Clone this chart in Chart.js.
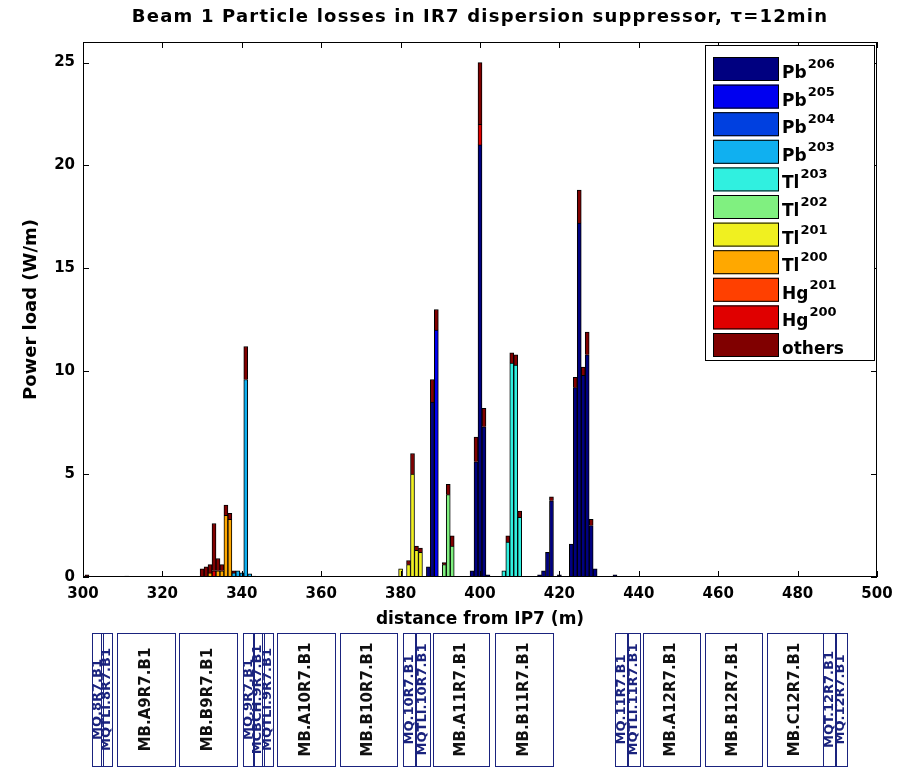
<!DOCTYPE html>
<html>
<head>
<meta charset="utf-8">
<script src="https://cdn.jsdelivr.net/npm/chart.js@4/dist/chart.umd.min.js"></script>
<style>
  body { margin: 0; background: #fff; }
</style>
</head>
<body>
<canvas id="lossChart" width="905" height="770"></canvas>
<script>
// posisi bin (m dari IP7)
const positions = [301, 311,
  330, 331, 332, 333, 334, 335, 336, 337, 338, 339, 340, 341, 342, 343,
  380, 382, 383, 384, 385, 387, 388, 389, 391, 392, 393, 398, 399, 400, 401, 402,
  406, 407, 408, 409, 410,
  415, 416, 417, 418, 420,
  423, 424, 425, 426, 427, 428, 429,
  434];

// beban daya per isotop (W/m), satu nilai per posisi
const pb206 = [0, 0,
  0, 0, 0, 0, 0, 0, 0, 0, 0, 0, 0, 0, 0, 0,
  0, 0, 0, 0, 0, 0.5, 8.5, 0, 0, 0, 0, 0.3, 5.6, 21.0, 7.3, 0.1,
  0, 0, 0, 0, 0,
  0.1, 0.3, 1.2, 3.7, 0.1,
  1.6, 9.2, 17.2, 9.8, 10.8, 2.5, 0.4,
  0.1];
const pb205 = [0, 0,
  0, 0, 0, 0, 0, 0, 0, 0, 0, 0, 0, 0, 0, 0,
  0, 0, 0, 0, 0, 0, 0, 12.0, 0, 0, 0, 0, 0, 0, 0, 0,
  0, 0, 0, 0, 0,
  0, 0, 0, 0, 0,
  0, 0, 0, 0, 0, 0, 0,
  0];
const pb204 = positions.map(() => 0);
const pb203 = [0, 0,
  0, 0, 0, 0, 0, 0, 0, 0, 0.2, 0.3, 0.2, 9.6, 0.15, 0,
  0, 0, 0, 0, 0, 0, 0, 0, 0, 0, 0, 0, 0, 0, 0, 0,
  0, 0, 0, 0, 0,
  0, 0, 0, 0, 0,
  0, 0, 0, 0, 0, 0, 0,
  0];
const tl203 = [0, 0,
  0, 0, 0, 0, 0, 0, 0, 0, 0, 0, 0, 0, 0, 0,
  0, 0, 0, 0, 0, 0, 0, 0, 0, 0, 0, 0, 0, 0, 0, 0,
  0.3, 1.7, 10.4, 10.3, 2.9,
  0, 0, 0, 0, 0,
  0, 0, 0, 0, 0, 0, 0,
  0];
const tl202 = [0, 0,
  0, 0, 0, 0, 0, 0, 0, 0, 0, 0, 0, 0, 0, 0,
  0, 0, 0, 0, 0, 0, 0, 0, 0.6, 4.0, 1.5, 0, 0, 0, 0, 0,
  0, 0, 0, 0, 0,
  0, 0, 0, 0, 0,
  0, 0, 0, 0, 0, 0, 0,
  0];
const tl201 = [0, 0,
  0, 0, 0, 0, 0, 0, 0, 0, 0, 0, 0, 0, 0, 0,
  0.4, 0.6, 5.0, 1.3, 1.2, 0, 0, 0, 0, 0, 0, 0, 0, 0, 0, 0,
  0, 0, 0, 0, 0,
  0, 0, 0, 0, 0,
  0, 0, 0, 0, 0, 0, 0,
  0];
const tl200 = [0, 0,
  0, 0, 0.2, 0, 0.3, 0.3, 3.0, 2.8, 0, 0, 0, 0, 0, 0,
  0, 0, 0, 0, 0, 0, 0, 0, 0, 0, 0, 0, 0, 0, 0, 0,
  0, 0, 0, 0, 0,
  0, 0, 0, 0, 0,
  0, 0, 0, 0, 0, 0, 0,
  0];
const hg201 = positions.map(() => 0);
const hg200 = [0, 0,
  0, 0, 0, 0.3, 0, 0, 0, 0, 0, 0, 0, 0, 0, 0,
  0, 0, 0, 0, 0, 0, 0, 0, 0, 0, 0, 0, 0, 1.0, 0, 0,
  0, 0, 0, 0, 0,
  0, 0, 0, 0, 0,
  0, 0, 0, 0, 0, 0, 0,
  0];
const others = [0.1, 0.05,
  0.4, 0.5, 0.4, 2.3, 0.6, 0.3, 0.5, 0.3, 0.1, 0, 0, 1.6, 0, 0.05,
  0, 0.2, 1.0, 0.2, 0.2, 0, 1.1, 1.0, 0.1, 0.5, 0.5, 0, 1.2, 3.0, 0.9, 0,
  0, 0.3, 0.5, 0.5, 0.3,
  0, 0, 0, 0.2, 0,
  0, 0.5, 1.6, 0.4, 1.1, 0.3, 0,
  0];

const speciesSymbol = ["Pb", "Pb", "Pb", "Pb", "Tl", "Tl", "Tl", "Tl", "Hg", "Hg", "others"];
const speciesMass = ["206", "205", "204", "203", "203", "202", "201", "200", "201", "200", ""];
const speciesValues = [pb206, pb205, pb204, pb203, tl203, tl202, tl201, tl200, hg201, hg200, others];
const speciesColors = ["#000080", "#0000f0", "#0040e0", "#10b0f0", "#30f0e0", "#80f080",
  "#f0f020", "#ffa800", "#ff4000", "#e00000", "#800000"];

// elemen magnet di bawah grafik
const elementNames = ["MQ.8R7.B1", "MQTLI.8R7.B1", "MB.A9R7.B1", "MB.B9R7.B1",
  "MQ.9R7.B1", "MCBCH.9R7.B1", "MQTLI.9R7.B1", "MB.A10R7.B1", "MB.B10R7.B1",
  "MQ.10R7.B1", "MQTLI.10R7.B1", "MB.A11R7.B1", "MB.B11R7.B1",
  "MQ.11R7.B1", "MQTLI.11R7.B1", "MB.A12R7.B1", "MB.B12R7.B1", "MB.C12R7.B1",
  "MQT.12R7.B1", "MQ.12R7.B1"];
const elementStart = [302.3, 304.6, 308.6, 324.2, 340.3, 342.7, 345.2, 348.9, 364.7,
  380.6, 383.6, 388.2, 403.8, 434.0, 437.0, 441.0, 456.7, 472.3, 486.4, 489.3];
const elementEnd = [305.0, 307.3, 323.2, 338.8, 343.0, 345.4, 347.9, 363.5, 379.1,
  383.9, 387.4, 402.3, 418.4, 437.2, 440.3, 455.4, 471.0, 486.4, 489.6, 492.4];

const xTicks = [300, 320, 340, 360, 380, 400, 420, 440, 460, 480, 500];
const yTicks = [0, 5, 10, 15, 20, 25];

// Fungsi untuk membuat data {x, y} tanpa nilai nol
function toPoints(values) {
    const pts = [];
    values.forEach((v, i) => {
        if (v > 0) pts.push({ x: positions[i], y: v });
    });
    return pts;
}

const FONT = "'DejaVu Sans', sans-serif";

const decorPlugin = {
    id: "decor",
    afterDatasetsDraw(chart) {
        const { ctx, chartArea: a, scales: { x, y } } = chart;
        ctx.save();

        // kotak sumbu dan tick ke dalam
        ctx.strokeStyle = "#000";
        ctx.lineWidth = 1;
        ctx.strokeRect(a.left + 0.5, a.top + 0.5, a.right - a.left - 1, a.bottom - a.top - 1);
        ctx.beginPath();
        xTicks.forEach(t => {
            const px = Math.round(x.getPixelForValue(t)) + 0.5;
            ctx.moveTo(px, a.bottom); ctx.lineTo(px, a.bottom - 6);
            ctx.moveTo(px, a.top); ctx.lineTo(px, a.top + 6);
        });
        yTicks.forEach(t => {
            const py = Math.round(y.getPixelForValue(t)) + 0.5;
            ctx.moveTo(a.left, py); ctx.lineTo(a.left + 6, py);
            ctx.moveTo(a.right, py); ctx.lineTo(a.right - 6, py);
        });
        ctx.stroke();

        // legenda
        const lx = 705, ly = 45, lw = 169, lh = 315;
        ctx.fillStyle = "#fff";
        ctx.fillRect(lx, ly, lw, lh);
        ctx.strokeRect(lx + 0.5, ly + 0.5, lw, lh);
        chart.data.datasets.forEach((ds, i) => {
            const cy = 69 + i * 27.6;
            ctx.fillStyle = ds.backgroundColor;
            ctx.fillRect(713, cy - 12, 66, 24);
            ctx.strokeStyle = "#000";
            ctx.strokeRect(713.5, cy - 11.5, 65, 23);
            ctx.fillStyle = "#000";
            ctx.textBaseline = "alphabetic";
            ctx.textAlign = "left";
            ctx.font = "bold 17px " + FONT;
            ctx.fillText(speciesSymbol[i], 782, cy + 9);
            const w = ctx.measureText(speciesSymbol[i]).width;
            ctx.font = "bold 13px " + FONT;
            ctx.fillText(speciesMass[i], 782 + w + 1, cy - 1);
        });

        // judul
        ctx.fillStyle = "#000";
        ctx.textAlign = "center";
        ctx.textBaseline = "middle";
        ctx.font = "bold 18px " + FONT;
        ctx.letterSpacing = "1.2px";
        ctx.fillText("Beam 1 Particle losses in IR7 dispersion suppressor, \u03c4=12min", (a.left + a.right) / 2, 17);
        ctx.letterSpacing = "0px";

        // elemen magnet
        const top = 633, h = 133;
        elementNames.forEach((name, i) => {
            const x0 = x.getPixelForValue(elementStart[i]);
            const x1 = x.getPixelForValue(elementEnd[i]);
            const isDipole = name.startsWith("MB");
            ctx.strokeStyle = "#1a237e";
            ctx.lineWidth = 1;
            ctx.strokeRect(Math.round(x0) + 0.5, top + 0.5, Math.round(x1 - x0), h);
            ctx.save();
            ctx.translate((x0 + x1) / 2, top + h / 2);
            ctx.rotate(-Math.PI / 2);
            ctx.fillStyle = isDipole ? "#111" : "#1a237e";
            ctx.font = (isDipole ? "bold 15px " : "bold 13px ") + FONT;
            ctx.textAlign = "center";
            ctx.textBaseline = "middle";
            ctx.fillText(name, 0, 0);
            ctx.restore();
        });

        ctx.restore();
    }
};

const ctx = document.getElementById("lossChart").getContext("2d");
const lossChart = new Chart(ctx, {
    type: "bar",
    data: {
        datasets: speciesValues.map((vals, i) => ({
            label: speciesSymbol[i] + speciesMass[i],
            data: toPoints(vals),
            backgroundColor: speciesColors[i],
            borderColor: "#000",
            borderWidth: 1,
            barThickness: 4,
        })),
    },
    options: {
        responsive: false,
        animation: false,
        layout: { padding: { top: 42, right: 28, bottom: 133, left: 0 } },
        plugins: {
            legend: { display: false },
            tooltip: { enabled: false },
        },
        scales: {
            x: {
                type: "linear",
                stacked: true,
                offset: false,
                min: 300,
                max: 500,
                grid: { display: false },
                border: { display: false },
                afterBuildTicks: s => { s.ticks = xTicks.map(v => ({ value: v })); },
                afterFit: s => { s.height = 60; },
                ticks: { color: "#000", padding: 0, maxRotation: 0, font: { family: FONT, size: 15, weight: "bold" } },
                title: {
                    display: true,
                    text: "distance from IP7 (m)",
                    color: "#000",
                    padding: { top: 0, bottom: 7 },
                    font: { family: FONT, size: 17, weight: "bold" },
                },
            },
            y: {
                stacked: true,
                min: 0,
                max: 26,
                grid: { display: false },
                border: { display: false },
                afterBuildTicks: s => { s.ticks = yTicks.map(v => ({ value: v })); },
                afterFit: s => { s.width = 83; },
                ticks: { color: "#000", padding: 0, font: { family: FONT, size: 15, weight: "bold" } },
                title: {
                    display: true,
                    text: "Power load (W/m)",
                    color: "#000",
                    padding: { top: 21, bottom: 0 },
                    font: { family: FONT, size: 18, weight: "bold" },
                },
            },
        },
    },
    plugins: [decorPlugin],
});
</script>
</body>
</html>
